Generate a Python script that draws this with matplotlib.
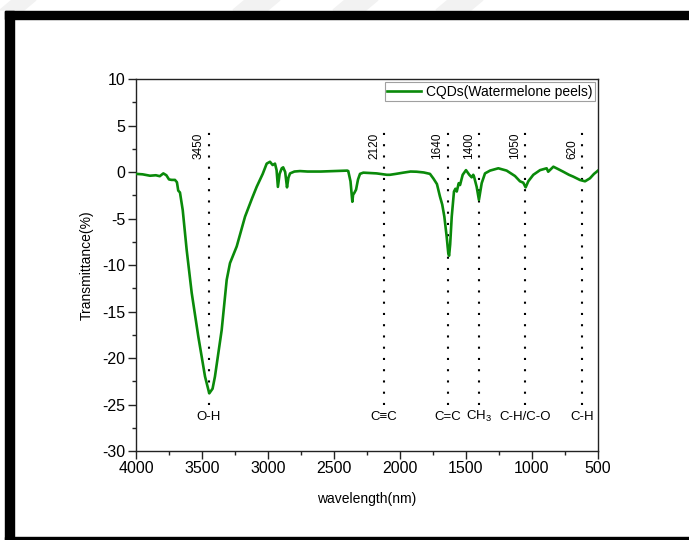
import matplotlib
matplotlib.use("Agg")
import matplotlib.pyplot as plt
from matplotlib.patches import Rectangle, Polygon
from matplotlib.ticker import MultipleLocator

plt.rcParams["font.family"] = ["Liberation Sans", "DejaVu Sans"]
plt.rcParams["mathtext.fontset"] = "custom"
plt.rcParams["mathtext.rm"] = "Liberation Sans"
plt.rcParams["axes.unicode_minus"] = False

# FTIR spectrum of the carbon quantum dots
wavenumber = [4000, 3950, 3894, 3850, 3820, 3793, 3770, 3750, 3730, 3705,
              3690, 3680, 3667, 3646, 3616, 3578, 3528, 3477, 3445, 3420,
              3402, 3351, 3313, 3288, 3237, 3174, 3120, 3086, 3040, 3010,
              2985, 2965, 2947, 2935, 2925, 2912, 2896, 2885, 2870, 2856,
              2845, 2833, 2800, 2758, 2700, 2600, 2500, 2400, 2392, 2375,
              2361, 2355, 2348, 2333, 2318, 2303, 2278, 2177, 2100, 2076,
              2030, 1975, 1920, 1874, 1820, 1773, 1747, 1720, 1697, 1680,
              1664, 1646, 1634, 1628, 1620, 1608, 1591, 1580, 1570, 1555,
              1545, 1525, 1500, 1485, 1475, 1457, 1445, 1439, 1419, 1402,
              1381, 1356, 1318, 1255, 1192, 1129, 1091, 1066, 1048, 1028,
              990, 939, 889, 877, 838, 800, 763, 720, 687, 636,
              598, 561, 530, 510, 500]
transmittance = [-0.2, -0.25, -0.4, -0.35, -0.45, -0.15, -0.35, -0.8, -0.85, -0.85,
                 -1.1, -2.0, -2.2, -4.1, -8.4, -13.0, -17.7, -22.0, -23.8, -23.3,
                 -22.0, -17.0, -11.6, -9.8, -8.0, -4.8, -2.8, -1.6, -0.2, 0.9,
                 1.1, 0.75, 0.9, 0.2, -1.6, -0.2, 0.4, 0.5, 0.0, -1.65,
                 -0.6, -0.15, 0.05, 0.1, 0.05, 0.05, 0.1, 0.15, 0.1, -1.0,
                 -3.2, -2.4, -2.3, -1.9, -0.8, -0.2, -0.07, -0.15, -0.3, -0.3,
                 -0.2, -0.07, 0.05, 0.03, -0.05, -0.2, -0.7, -1.3, -2.65, -3.5,
                 -4.8, -7.0, -8.75, -9.0, -7.8, -4.8, -2.1, -1.8, -2.1, -1.2,
                 -1.4, -0.3, 0.2, -0.1, -0.3, -0.57, -0.3, -0.5, -1.6, -3.0,
                 -1.2, -0.15, 0.15, 0.4, 0.15, -0.43, -1.0, -1.15, -1.65, -1.0,
                 -0.3, 0.2, 0.4, 0.03, 0.57, 0.3, 0.03, -0.3, -0.5, -0.86,
                 -1.0, -0.68, -0.2, 0.03, 0.15]

peak_pos = [3450, 2120, 1640, 1400, 1050, 620]
peak_groups = ["O-H", "C\u2261C", "C=C", "CH$\\mathregular{_3}$", "C-H/C-O", "C-H"]

fig = plt.figure(figsize=(6.89, 5.40), dpi=100)
ax = fig.add_axes([0.1974, 0.1648, 0.6705, 0.6889])

ax.plot(wavenumber, transmittance, color="#0a8a0a", lw=1.9,
        label="CQDs(Watermelone peels)", zorder=3)

# dotted markers for the assigned bands
for pos, grp in zip(peak_pos, peak_groups):
    ax.plot([pos, pos], [-25.0, 4.3], color="black", lw=1.5,
            linestyle=(0, (1, 4.4)), dash_capstyle="butt", zorder=2)
    ax.annotate(str(pos), xy=(pos, 1.4), xytext=(-3, 0), textcoords="offset points",
                rotation=90, ha="right", va="bottom", fontsize=8.5)
    ax.text(pos, -26.3, grp, ha="center", va="center", fontsize=9.5)

ax.set_xlim(4000, 500)
ax.set_ylim(-30, 10)
ax.xaxis.set_major_locator(MultipleLocator(500))
ax.xaxis.set_minor_locator(MultipleLocator(250))
ax.yaxis.set_major_locator(MultipleLocator(5))
ax.yaxis.set_minor_locator(MultipleLocator(2.5))
ax.tick_params(which="both", direction="out", top=False, right=False,
               color="#222222", width=1.0)
ax.tick_params(which="major", length=5.5, labelsize=11.5, pad=2)
ax.tick_params(which="minor", length=3)
for sp in ax.spines.values():
    sp.set_linewidth(1.0)
    sp.set_color("#222222")

ax.set_xlabel("wavelength(nm)", fontsize=10)
ax.set_ylabel("Transmittance(%)", fontsize=10)
ax.xaxis.set_label_coords(0.5, -0.11)
ax.yaxis.set_label_coords(-0.092, 0.5)

leg = ax.legend(loc="upper right", bbox_to_anchor=(1.0, 1.0), fontsize=10,
                frameon=True, fancybox=False, borderaxespad=0.25,
                borderpad=0.15, handlelength=2.45, handletextpad=0.35)
leg.get_frame().set_edgecolor("#888888")
leg.get_frame().set_linewidth(0.8)

# outer black frame and faint marks along the top edge
W, H = 689.0, 540.0
fig.patches.append(Rectangle((5 / W, 1 - 19 / H), 1, 8 / H, transform=fig.transFigure,
                             color="black", zorder=10))
fig.patches.append(Rectangle((5 / W, 0), 9 / W, 1 - 11 / H, transform=fig.transFigure,
                             color="black", zorder=10))
fig.patches.append(Rectangle((5 / W, 0), 1, 3.5 / H, transform=fig.transFigure,
                             color="black", zorder=10))
for xa, xb in [(12, 36), (245, 280), (345, 378), (448, 483)]:
    pts = [(xa / W, 1), (xb / W, 1), ((xb - 12) / W, 1 - 10 / H), ((xa - 12) / W, 1 - 10 / H)]
    fig.patches.append(Polygon(pts, closed=True, transform=fig.transFigure,
                               color="#f2f2f2", zorder=1))

fig.savefig("out.png", dpi=100)
